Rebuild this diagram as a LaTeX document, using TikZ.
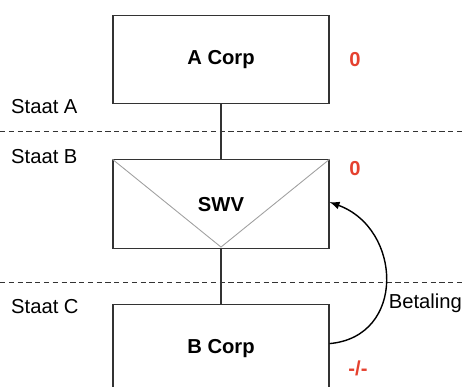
\documentclass[tikz,border=0pt]{standalone}
\usepackage{fontspec}
\setmainfont{Liberation Sans}
\usepackage{xcolor}
\usetikzlibrary{arrows.meta,positioning}
\definecolor{boxgray}{HTML}{333333}
\definecolor{envgray}{HTML}{A0A0A0}
\definecolor{taxred}{HTML}{E5412F}

\begin{document}
\begin{tikzpicture}[
  node distance=1.1cm,
  entity/.style={draw=boxgray,line width=0.6pt,minimum width=4.32cm,
    minimum height=1.77cm,font=\fontsize{11.5}{13}\selectfont\bfseries},
  state/.style={anchor=west,font=\fontsize{11.5}{13}\selectfont},
  rate/.style={text=taxred,font=\fontsize{11.5}{13}\selectfont\bfseries},
  border/.style={dash pattern=on 3pt off 2pt,line width=0.5pt,draw=boxgray},
  link/.style={draw=boxgray,line width=0.6pt},
  arrow/.style={-{Latex[length=2mm,width=1.6mm]},line width=0.8pt,draw=black}
]
\clip (0,0) rectangle (9.26,-7.74);
\useasboundingbox (0,0) rectangle (9.26,-7.74);

% entities
\node[entity] (acorp) at (4.42,-1.19) {A Corp};
\node[entity,below=1.1cm of acorp] (swv) {SWV};
\node[entity,below=1.1cm of swv] (bcorp) {B Corp};
\draw[envgray,line width=0.5pt] (swv.north west) -- ([yshift=1pt]swv.south) -- (swv.north east);

% state borders
\coordinate (ab west) at (0,-2.62);
\coordinate (ab east) at (9.26,-2.62);
\coordinate (bc west) at (0,-5.64);
\coordinate (bc east) at (9.26,-5.64);
\draw[border] (ab west) -- (ab east);
\draw[border] (bc west) -- (bc east);

\node[state] (staata) at (0.1,-2.14) {Staat A};
\node[state] (staatb) at (0.1,-3.14) {Staat B};
\node[state] (staatc) at (0.1,-6.14) {Staat C};

% rates
\node[rate] (ratea) at (7.1,-1.2) {0};
\node[rate] (rateswv) at (7.1,-3.38) {0};
\node[rate] (rateb) at (7.16,-7.36) {-/-};

% links
\draw[link] (acorp) -- (swv);
\draw[link] (swv) -- (bcorp);
\draw[arrow] ([yshift=0.1cm]bcorp.east) to[out=5,in=-20,looseness=1.4]
  node[right,pos=0.37,font=\fontsize{11.5}{13}\selectfont,xshift=0pt] (pay) {Betaling}
  ([yshift=0.04cm]swv.east);
\end{tikzpicture}
\end{document}
